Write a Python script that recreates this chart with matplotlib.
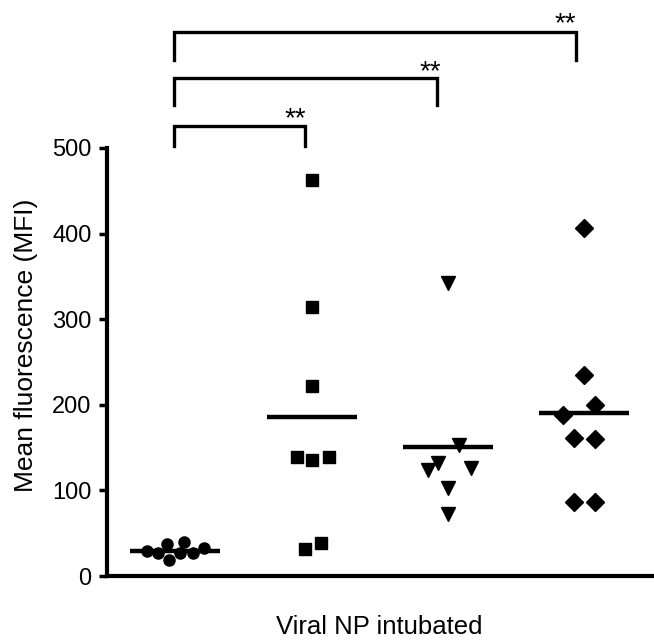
import numpy as np
import matplotlib
matplotlib.use("Agg")
import matplotlib.pyplot as plt

plt.rcParams["font.family"] = ["Liberation Sans", "DejaVu Sans"]

# values
groups = [1, 2, 3, 4]
mfi_g1 = [29.6, 26.5, 37.4, 18.7, 26.5, 40.1, 26.5, 32.4]
mfi_g2 = [463, 314, 222, 139, 136, 139, 32, 39]
mfi_g3 = [342, 153, 132, 124, 126, 103, 73]
mfi_g4 = [407, 235, 200, 188, 161, 160, 86, 86]
yticks = [0, 100, 200, 300, 400, 500]
stars = ["**", "**", "**"]

# horizontal scatter of the points around each group centre
off_g1 = [-0.208, -0.125, -0.059, -0.044, 0.037, 0.066, 0.132, 0.213]
off_g2 = [0, 0, 0, -0.11, 0, 0.125, -0.05, 0.07]
off_g3 = [0, 0.08, -0.07, -0.15, 0.17, 0, 0]
off_g4 = [0, 0, 0.08, -0.16, -0.08, 0.08, -0.08, 0.08]

all_vals = [mfi_g1, mfi_g2, mfi_g3, mfi_g4]
all_offs = [off_g1, off_g2, off_g3, off_g4]
markers = ["o", "s", "v", "D"]
msizes = [8, 8, 10, 9]

fig = plt.figure(figsize=(6.54, 6.42), dpi=100)
ax = fig.add_axes([0.1636, 0.1028, 0.8364, 0.6667])

for g, vals, offs, m, ms in zip(groups, all_vals, all_offs, markers, msizes):
    x = g + np.array(offs)
    ax.plot(x, vals, linestyle="none", marker=m, markersize=ms, color="black",
            clip_on=False, zorder=3)
    mean = np.mean(vals)
    ax.plot([g - 0.33, g + 0.33], [mean, mean], color="black", lw=3.2,
            solid_capstyle="butt", zorder=4)

ax.set_xlim(0.5, 4.51)
ax.set_ylim(0, 500)
ax.set_yticks(yticks)
ax.set_yticklabels([str(t) for t in yticks], fontsize=17)
ax.set_xticks([])
for s in ["top", "right"]:
    ax.spines[s].set_visible(False)
for s in ["left", "bottom"]:
    ax.spines[s].set_linewidth(3)
ax.tick_params(axis="y", length=6, width=2.5, pad=5)
ax.set_ylabel("Mean fluorescence (MFI)", fontsize=19)
ax.yaxis.set_label_coords(-0.126, 0.54)
fig.text(0.58, 0.004, "Viral NP intubated", fontsize=18.5, ha="center", va="bottom")

# significance brackets
brackets = [(0.99, 1.954, 526, 502), (0.99, 2.92, 582, 550), (0.99, 3.94, 636, 603)]
star_pos = [(1.88, 525), (2.87, 580), (3.86, 637)]
for (x0, x1, ytop, ybot), (sx, sy), st in zip(brackets, star_pos, stars):
    ax.plot([x0, x0, x1, x1], [ybot, ytop, ytop, ybot], color="black", lw=2.4,
            clip_on=False, solid_joinstyle="miter")
    ax.text(sx, sy, st, fontsize=20, ha="center", va="baseline")

fig.savefig("out.png", dpi=100)
